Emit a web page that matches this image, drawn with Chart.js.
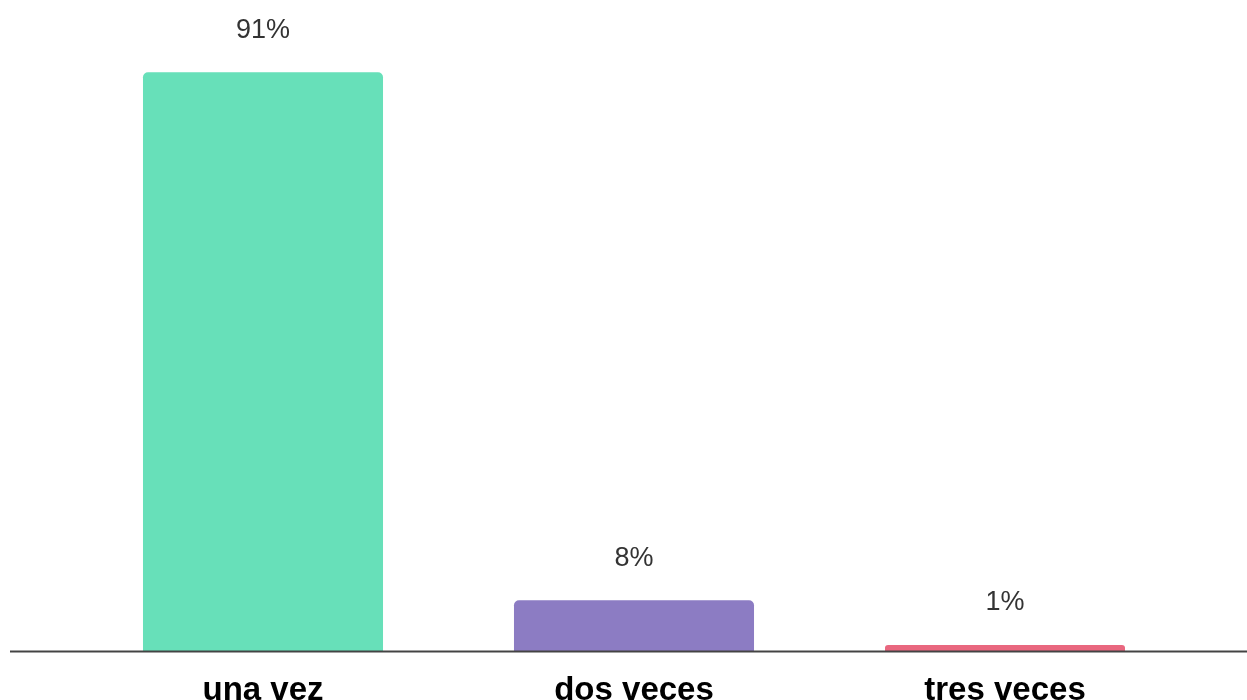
<!DOCTYPE html>
<html>
<head>
<meta charset="utf-8">
<script src="https://cdn.jsdelivr.net/npm/chart.js@4/dist/chart.umd.min.js"></script>
<style>
  html, body { margin: 0; padding: 0; background: #fff; overflow: hidden; }
</style>
</head>
<body>
<canvas id="chart" width="1247" height="700"></canvas>
<script>
const categories = ["una vez", "dos veces", "tres veces"];
const percentages = [91, 8, 1];
const barColors = ["#67e0b9", "#8c7cc3", "#e9677f"];

const fontFamily = "'Liberation Sans', Arial, sans-serif";

// value label above each bar, taken from the data
const valueLabels = {
  id: "valueLabels",
  afterDatasetsDraw(chart) {
    const ctx = chart.ctx;
    const meta = chart.getDatasetMeta(0);
    ctx.save();
    ctx.font = "27px " + fontFamily;
    ctx.fillStyle = "#333";
    ctx.textAlign = "center";
    ctx.textBaseline = "middle";
    meta.data.forEach((bar, i) => {
      const v = chart.data.datasets[0].data[i];
      ctx.fillText(v + "%", bar.x, bar.y - 42);
    });
    ctx.restore();
  },
};

// baseline running across the whole width
const baseline = {
  id: "baseline",
  afterDraw(chart) {
    const ctx = chart.ctx;
    const y = Math.round(chart.chartArea.bottom) + 0.5;
    ctx.save();
    ctx.strokeStyle = "#444";
    ctx.lineWidth = 2;
    ctx.beginPath();
    ctx.moveTo(10, y);
    ctx.lineTo(chart.width, y);
    ctx.stroke();
    ctx.restore();
  },
};

new Chart(document.getElementById("chart"), {
  type: "bar",
  data: {
    labels: categories,
    datasets: [
      {
        data: percentages,
        backgroundColor: barColors,
        borderRadius: 5,
        borderSkipped: "start",
        categoryPercentage: 1,
        barPercentage: 0.647,
      },
    ],
  },
  options: {
    responsive: false,
    animation: false,
    layout: {
      padding: { left: 77.5, right: 56.5, top: 15, bottom: -30 },
    },
    plugins: {
      legend: { display: false },
      tooltip: { enabled: false },
    },
    scales: {
      x: {
        grid: { display: false, drawTicks: false },
        border: { display: false },
        ticks: {
          padding: 27,
          color: "#000",
          font: { family: fontFamily, size: 33, weight: "bold", lineHeight: 0.75 },
        },
      },
      y: {
        display: false,
        min: 0,
        max: 100,
      },
    },
  },
  plugins: [valueLabels, baseline],
});
</script>
</body>
</html>
